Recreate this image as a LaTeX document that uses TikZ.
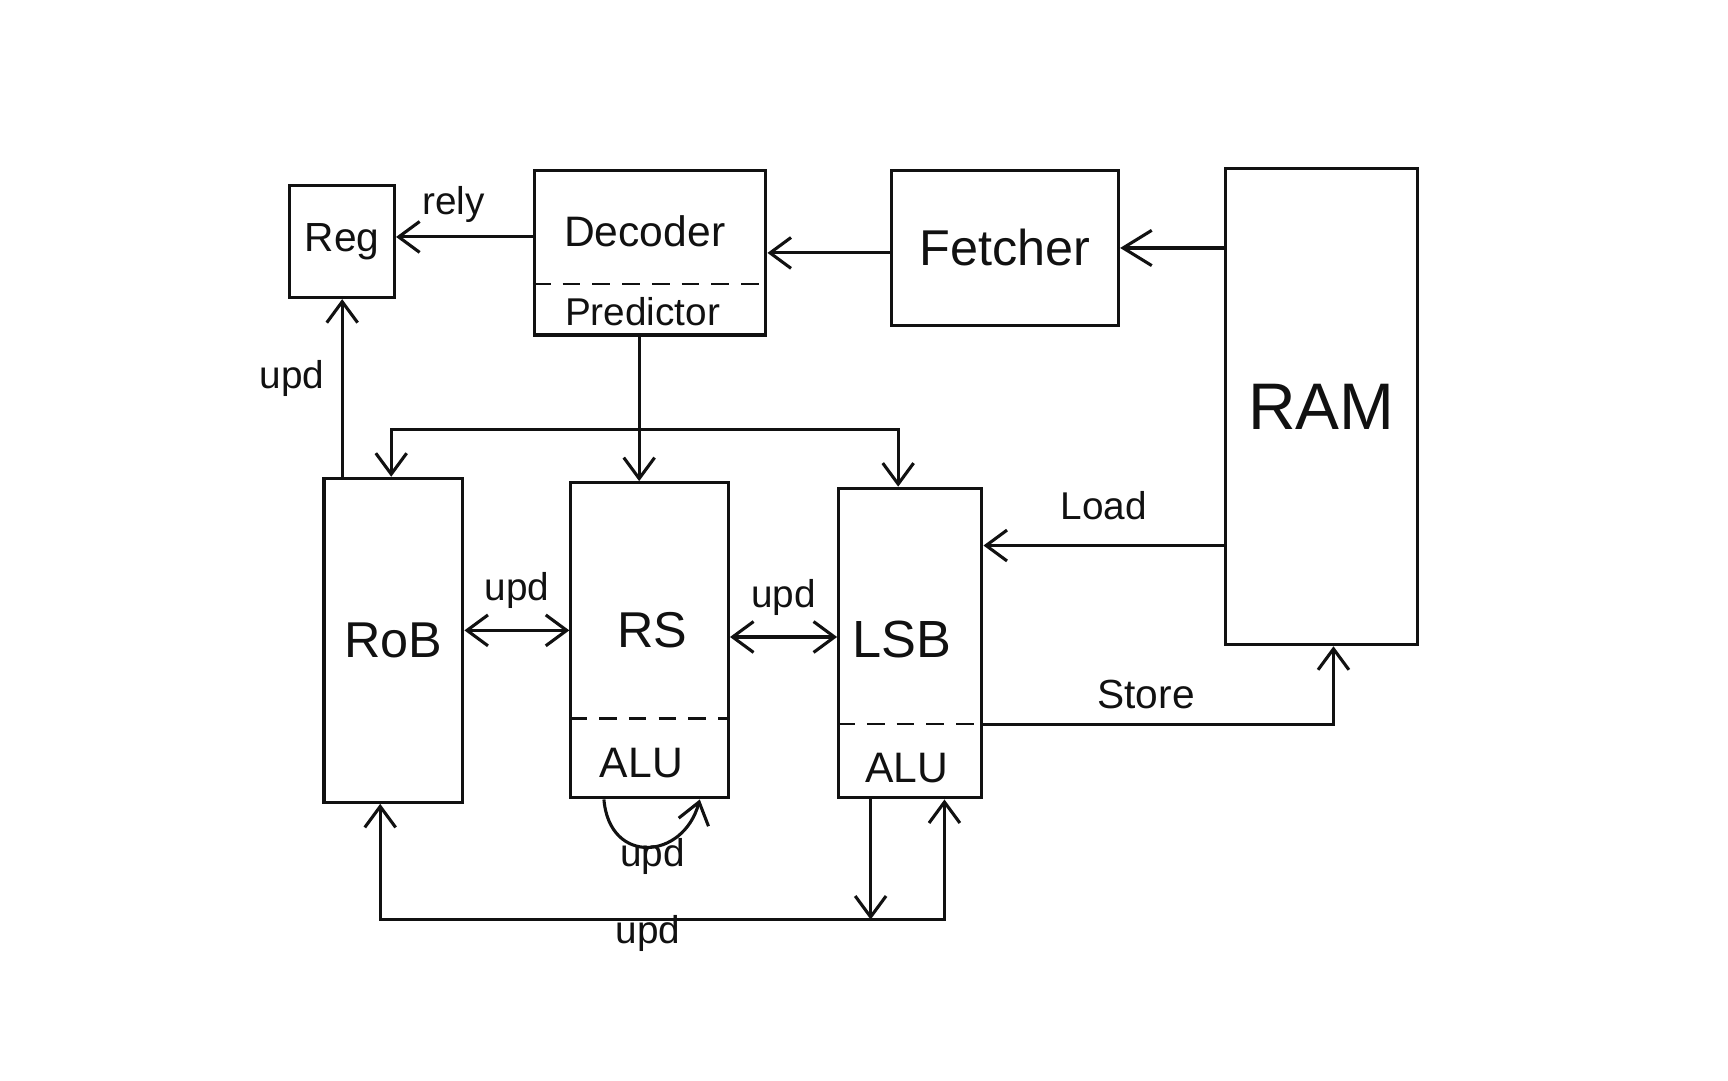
\documentclass[tikz,border=0pt]{standalone}
\usepackage{fontspec}
\setmainfont{Liberation Sans}
\usepackage{xcolor}
\usetikzlibrary{arrows.meta,positioning}
\definecolor{sketchink}{HTML}{111111}

\begin{document}
\begin{tikzpicture}[
  unit/.style={draw=sketchink,line width=0.8pt,inner sep=0pt,text=sketchink},
  tag/.style={text=sketchink,inner sep=0pt,font=\fontsize{10}{12}\selectfont},
  divider/.style={draw=sketchink,line width=0.6pt,dash pattern=on 1.6mm off 1.1mm},
  arrow/.style={-{Straight Barb[length=1.9mm,width=2.8mm]},line width=0.8pt,draw=sketchink},
  twoway/.style={{Straight Barb[length=1.9mm,width=2.8mm]}-{Straight Barb[length=1.9mm,width=2.8mm]},line width=0.8pt,draw=sketchink}
]
\useasboundingbox (0,0) rectangle (15.68,9.8);

% front end
\node[unit,minimum width=9.5mm,minimum height=10.2mm,font=\fontsize{10.5}{13}\selectfont] (reg) at (3.105,7.61) {Reg};
\node[unit,minimum width=21mm,minimum height=14.9mm] (decoder) at (5.90,7.505) {};
\node[tag,font=\fontsize{11}{13}\selectfont] (decodertext) at (5.85,7.70) {Decoder};
\node[tag,font=\fontsize{10}{12}\selectfont] (predictortext) at (5.83,6.97) {Predictor};
\draw[divider] (decoder.west |- 0,7.22) -- (decoder.east |- 0,7.22);
\node[unit,minimum width=20.6mm,minimum height=14mm,font=\fontsize{13}{15}\selectfont] (fetcher) at (9.12,7.55) {Fetcher};
\node[unit,minimum width=17.4mm,minimum height=43.2mm,font=\fontsize{17}{20}\selectfont] (ram) at (11.99,6.11) {RAM};

% back end
\node[unit,minimum width=12.6mm,minimum height=29.4mm,font=\fontsize{13}{16}\selectfont] (rob) at (3.57,3.99) {RoB};
\node[unit,minimum width=14.3mm,minimum height=28.6mm] (rs) at (5.895,3.99) {};
\node[tag,font=\fontsize{13}{16}\selectfont] (rstext) at (5.92,4.08) {RS};
\node[tag,font=\fontsize{11}{13}\selectfont] (rsalu) at (5.82,2.88) {ALU};
\draw[divider] (rs.west |- 0,3.28) -- (rs.east |- 0,3.28);
\node[unit,minimum width=13mm,minimum height=28.1mm] (lsb) at (8.26,3.965) {};
\node[tag,font=\fontsize{13.5}{16}\selectfont] (lsbtext) at (8.18,4.00) {LSB};
\node[tag,font=\fontsize{11}{13}\selectfont] (lsbalu) at (8.23,2.83) {ALU};
\draw[divider] (lsb.west |- 0,3.23) -- (lsb.east |- 0,3.23);

% instruction flow
\draw[arrow,-{Straight Barb[length=2.6mm,width=3.2mm]}] (ram.west |- fetcher.east) -- (fetcher.east);
\draw[arrow] (fetcher.west |- decoder.east) -- (decoder.east);
\draw[arrow] (decoder.west |- 0,7.65) -- node[tag,above=1.2mm,xshift=-1mm] (relytext) {rely} (reg.east |- 0,7.65);
\draw[arrow] ([xshift=-1mm]decoder.south) -- ([xshift=-1mm]decoder.south |- rs.north);
\coordinate (issue) at ([xshift=-1mm]decoder.south |- 0,5.90);
\draw[arrow] (issue) -| ([xshift=-0.2mm]rob.north);
\draw[arrow] (issue) -| ([xshift=-1.1mm]lsb.north);
\draw[arrow] (rob.north -| reg.south) -- (reg.south);
\node[tag] (regupd) at (2.65,6.37) {upd};

% updates
\draw[twoway] ([yshift=0.9mm]rob.east) -- node[tag,above=1.8mm] (robupd) {upd} ([yshift=0.9mm]rob.east -| rs.west);
\draw[twoway] ([yshift=0.3mm]rs.east) -- node[tag,above=1.8mm] (rsupd) {upd} ([yshift=0.3mm]rs.east -| lsb.west);
\draw[arrow] ([xshift=-4.15mm]rs.south) .. controls +(0.05,-0.6) and +(-0.15,-0.55) .. ([xshift=4.55mm]rs.south);
\node[tag] (aluupd) at (5.92,2.03) {upd};
\draw[arrow] ([xshift=-3.6mm]lsb.south) -- ++(0,-1.09) coordinate (wb);
\draw[arrow] (wb) -| ([xshift=-1.2mm]rob.south);
\draw[arrow] (wb) -| ([xshift=3.1mm]lsb.south);
\node[tag] (cdbupd) at (5.88,1.33) {upd};

% memory
\draw[arrow] ([yshift=8.85mm]lsb.east -| ram.west) -- node[tag,above=2.2mm] (loadtext) {Load} ([yshift=8.85mm]lsb.east);
\draw[arrow] ([yshift=-7.35mm]lsb.east) -| ([xshift=1.1mm]ram.south);
\node[tag,font=\fontsize{10.5}{12}\selectfont] (storetext) at (10.40,3.50) {Store};
\end{tikzpicture}
\end{document}
